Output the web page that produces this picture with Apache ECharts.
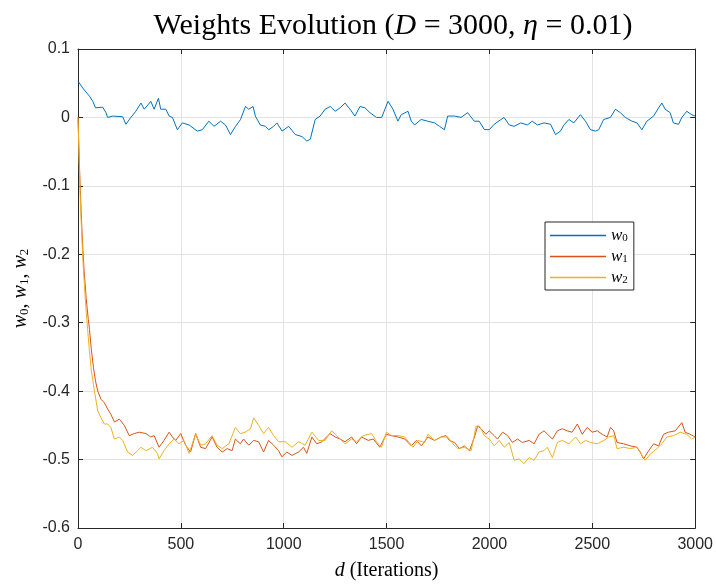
<!DOCTYPE html>
<html>
<head>
<meta charset="utf-8">
<script src="https://cdn.jsdelivr.net/npm/echarts@6/dist/echarts.min.js"></script>
<style>
  html, body { margin: 0; padding: 0; background: #fff; }
  #main { width: 716px; height: 586px; }
</style>
</head>
<body>
<div id="main"></div>
<script>
// [iteration, value] pairs
const w0 = [[0,0.053],[23,0.043],[56,0.031],[72,0.0235],[85,0.014],[120,0.015],[136,0.007],[144,0],[169,0.002],[217,0.001],[233,-0.010],[257,0],[281,0.009],[306,0.021],[322,0.012],[354,0.0235],[370,0.012],[391,0.028],[402,0.012],[427,0.012],[443,0.002],[459,0],[483,-0.018],[507,-0.008],[540,-0.011],[580,-0.020],[604,-0.018],[636,-0.0055],[661,-0.013],[693,-0.0055],[717,-0.011],[741,-0.025],[766,-0.013],[790,-0.003],[814,0.016],[830,0.012],[851,0.016],[862,0.002],[886,-0.011],[911,-0.013],[927,-0.018],[951,-0.013],[967,-0.008],[992,-0.020],[1024,-0.013],[1056,-0.025],[1089,-0.028],[1112,-0.0345],[1129,-0.032],[1153,-0.003],[1177,0.002],[1201,0.012],[1226,0.016],[1250,0.009],[1274,0.014],[1298,0.021],[1322,0.012],[1346,0.002],[1371,0.016],[1395,0.014],[1419,0.007],[1451,0],[1476,0],[1507,0.0235],[1531,0.012],[1555,-0.0055],[1571,0.004],[1604,0.009],[1620,-0.0055],[1636,-0.011],[1668,-0.003],[1700,-0.0055],[1733,-0.008],[1757,-0.013],[1781,-0.018],[1797,0.002],[1830,0.002],[1862,0],[1894,0.007],[1926,-0.0055],[1950,-0.0055],[1975,-0.0176],[1999,-0.018],[2023,-0.010],[2071,0],[2096,-0.011],[2120,-0.013],[2152,-0.008],[2184,-0.011],[2208,-0.0055],[2233,-0.011],[2265,-0.008],[2297,-0.010],[2321,-0.025],[2345,-0.020],[2362,-0.011],[2386,-0.003],[2410,-0.008],[2442,0.004],[2467,-0.0055],[2491,-0.018],[2515,-0.020],[2531,-0.018],[2555,-0.003],[2588,0],[2612,0.012],[2636,0.007],[2660,0],[2693,-0.0055],[2717,-0.008],[2741,-0.018],[2765,-0.0055],[2798,0.002],[2822,0.014],[2838,0.021],[2854,0.012],[2878,0.007],[2894,-0.008],[2919,-0.010],[2935,0],[2959,0.009],[2983,0.004],[3000,0.002]]

const w1 = [[0,0],[3,-0.03],[6,-0.06],[10,-0.095],[15,-0.135],[20,-0.17],[25,-0.2],[30,-0.225],[40,-0.265],[50,-0.295],[56,-0.31],[65,-0.34],[75,-0.365],[85,-0.385],[96,-0.40],[112,-0.412],[128,-0.417],[144,-0.426],[160,-0.434],[177,-0.445],[201,-0.441],[209,-0.439],[225,-0.450],[249,-0.465],[273,-0.462],[298,-0.460],[330,-0.462],[354,-0.467],[370,-0.465],[394,-0.482],[418,-0.472],[443,-0.460],[459,-0.467],[475,-0.472],[499,-0.462],[523,-0.479],[547,-0.489],[572,-0.462],[596,-0.482],[620,-0.484],[652,-0.467],[676,-0.482],[701,-0.489],[725,-0.484],[749,-0.487],[765,-0.470],[789,-0.477],[805,-0.470],[830,-0.479],[854,-0.472],[878,-0.474],[902,-0.489],[926,-0.472],[951,-0.479],[975,-0.487],[991,-0.496],[1015,-0.489],[1040,-0.494],[1072,-0.489],[1096,-0.482],[1112,-0.491],[1137,-0.467],[1161,-0.477],[1185,-0.474],[1225,-0.462],[1250,-0.467],[1274,-0.470],[1298,-0.474],[1330,-0.467],[1354,-0.477],[1378,-0.467],[1411,-0.472],[1435,-0.470],[1467,-0.482],[1499,-0.463],[1523,-0.465],[1556,-0.467],[1588,-0.470],[1620,-0.480],[1645,-0.472],[1669,-0.480],[1701,-0.467],[1733,-0.472],[1765,-0.467],[1789,-0.465],[1805,-0.472],[1830,-0.475],[1854,-0.484],[1878,-0.480],[1903,-0.487],[1927,-0.467],[1943,-0.451],[1959,-0.455],[1983,-0.463],[1999,-0.458],[2023,-0.465],[2039,-0.470],[2064,-0.460],[2088,-0.465],[2112,-0.475],[2136,-0.470],[2160,-0.475],[2193,-0.472],[2217,-0.477],[2241,-0.463],[2265,-0.458],[2289,-0.465],[2306,-0.470],[2330,-0.458],[2354,-0.455],[2378,-0.458],[2402,-0.460],[2427,-0.448],[2451,-0.463],[2475,-0.453],[2499,-0.460],[2524,-0.458],[2548,-0.463],[2572,-0.467],[2588,-0.453],[2604,-0.458],[2620,-0.475],[2653,-0.477],[2685,-0.480],[2717,-0.482],[2733,-0.489],[2749,-0.499],[2774,-0.487],[2798,-0.477],[2822,-0.480],[2846,-0.463],[2870,-0.460],[2903,-0.458],[2935,-0.446],[2951,-0.460],[2975,-0.463],[3000,-0.467]]

const w2 = [[0,0],[3,-0.035],[6,-0.07],[10,-0.11],[15,-0.15],[20,-0.185],[25,-0.215],[30,-0.24],[40,-0.285],[47,-0.31],[55,-0.34],[65,-0.37],[75,-0.39],[80,-0.40],[96,-0.429],[112,-0.439],[128,-0.448],[144,-0.448],[160,-0.453],[177,-0.470],[201,-0.467],[217,-0.472],[241,-0.489],[265,-0.494],[290,-0.487],[306,-0.482],[330,-0.487],[362,-0.482],[386,-0.491],[394,-0.499],[418,-0.487],[443,-0.477],[467,-0.470],[491,-0.477],[515,-0.472],[540,-0.491],[572,-0.462],[596,-0.479],[620,-0.477],[652,-0.465],[676,-0.479],[701,-0.484],[733,-0.477],[765,-0.453],[789,-0.462],[813,-0.460],[838,-0.455],[854,-0.439],[878,-0.450],[902,-0.462],[926,-0.453],[951,-0.465],[975,-0.474],[1007,-0.474],[1040,-0.482],[1072,-0.474],[1104,-0.479],[1137,-0.460],[1169,-0.472],[1201,-0.472],[1233,-0.458],[1258,-0.465],[1298,-0.477],[1330,-0.470],[1354,-0.474],[1386,-0.465],[1427,-0.462],[1451,-0.474],[1475,-0.482],[1499,-0.460],[1523,-0.465],[1556,-0.465],[1588,-0.467],[1628,-0.482],[1653,-0.472],[1685,-0.475],[1701,-0.463],[1733,-0.472],[1765,-0.467],[1797,-0.467],[1822,-0.477],[1846,-0.484],[1878,-0.482],[1911,-0.487],[1935,-0.451],[1951,-0.451],[1975,-0.465],[1999,-0.470],[2023,-0.480],[2047,-0.472],[2072,-0.482],[2096,-0.475],[2120,-0.501],[2144,-0.499],[2168,-0.506],[2193,-0.497],[2217,-0.501],[2241,-0.489],[2265,-0.487],[2281,-0.482],[2306,-0.497],[2330,-0.475],[2354,-0.472],[2386,-0.477],[2419,-0.467],[2443,-0.477],[2467,-0.472],[2491,-0.475],[2524,-0.477],[2556,-0.472],[2580,-0.467],[2604,-0.465],[2620,-0.484],[2653,-0.482],[2685,-0.484],[2717,-0.482],[2741,-0.494],[2757,-0.501],[2782,-0.492],[2814,-0.484],[2838,-0.477],[2862,-0.467],[2895,-0.465],[2927,-0.460],[2959,-0.463],[2983,-0.470],[3000,-0.467]]

const seriesNames = ['w0', 'w1', 'w2']
const colors = ['#0072BD', '#D95319', '#EDB120']

const axisColor = '#262626'
const serif = 'Liberation Serif'
const sans = 'Liberation Sans'

const mathRich = {
  n: { fontFamily: serif, fontSize: 20, color: '#000', lineHeight: 22 },
  i: { fontFamily: serif, fontStyle: 'italic', fontSize: 20, color: '#000', lineHeight: 22 },
  s: { fontFamily: serif, fontSize: 13, color: '#000', lineHeight: 11, verticalAlign: 'bottom' }
}

let chart = echarts.init(document.getElementById('main'), null, { renderer: 'canvas' })

function boxAxis(extra) {
  return Object.assign({
    type: 'value',
    axisLine: { show: true, onZero: false, lineStyle: { color: axisColor, width: 1 } },
    axisTick: { show: true, inside: true, length: 5, lineStyle: { color: axisColor } },
    axisLabel: { show: false },
    splitLine: { show: false }
  }, extra)
}

let option = {
  animation: false,
  color: colors,
  title: {
    text: '{n|Weights Evolution (}{i|D}{n| = 3000, }{i|η}{n| = 0.01)}',
    left: 388,
    textAlign: 'center',
    top: 6,
    textStyle: {
      fontWeight: 'normal',
      rich: {
        n: { fontFamily: serif, fontSize: 30, fontWeight: 'normal', color: '#000' },
        i: { fontFamily: serif, fontStyle: 'italic', fontSize: 30, fontWeight: 'normal', color: '#000' }
      }
    }
  },
  grid: { left: 78, right: 18, top: 49, bottom: 55 },
  legend: {
    orient: 'vertical',
    left: 545,
    top: 222,
    padding: [5, 6, 4, 5],
    itemGap: 4,
    itemWidth: 56,
    itemHeight: 1.5,
    icon: 'rect',
    borderColor: axisColor,
    borderWidth: 1,
    backgroundColor: '#fff',
    data: seriesNames,
    formatter: name => '{i|w}{s|' + name.slice(1) + '}',
    textStyle: {
      rich: {
        i: { fontFamily: serif, fontStyle: 'italic', fontSize: 17, color: '#000', lineHeight: 17 },
        s: { fontFamily: serif, fontSize: 11, color: '#000', lineHeight: 9, verticalAlign: 'bottom' }
      }
    }
  },
  xAxis: [
    {
      type: 'value',
      min: 0,
      max: 3000,
      interval: 500,
      position: 'bottom',
      name: '{i|d}{n| (Iterations)}',
      nameLocation: 'middle',
      nameGap: 32,
      nameTextStyle: { rich: mathRich },
      axisLine: { show: true, onZero: false, lineStyle: { color: axisColor, width: 1 } },
      axisTick: { show: true, inside: true, length: 5, lineStyle: { color: axisColor } },
      axisLabel: { color: axisColor, fontFamily: sans, fontSize: 16, margin: 9, formatter: v => String(v) },
      splitLine: { show: true, lineStyle: { color: '#e3e3e3', width: 1 } }
    },
    boxAxis({ min: 0, max: 3000, interval: 500, position: 'top' })
  ],
  yAxis: [
    {
      type: 'value',
      min: -0.6,
      max: 0.1,
      interval: 0.1,
      position: 'left',
      name: '{i|w}{s|0}{n|, }{i|w}{s|1}{n|, }{i|w}{s|2}',
      nameLocation: 'middle',
      nameGap: 45,
      nameTextStyle: { rich: mathRich },
      axisLine: { show: true, onZero: false, lineStyle: { color: axisColor, width: 1 } },
      axisTick: { show: true, inside: true, length: 5, lineStyle: { color: axisColor } },
      axisLabel: {
        color: axisColor, fontFamily: sans, fontSize: 16, margin: 8,
        formatter: v => String(+v.toFixed(1))
      },
      splitLine: { show: true, lineStyle: { color: '#e3e3e3', width: 1 } }
    },
    boxAxis({ min: -0.6, max: 0.1, interval: 0.1, position: 'right' })
  ],
  series: [w0, w1, w2].map((d, k) => ({
    name: seriesNames[k],
    type: 'line',
    data: d,
    showSymbol: false,
    symbol: 'none',
    lineStyle: { width: 1, color: colors[k] },
    itemStyle: { color: colors[k] },
    emphasis: { disabled: true }
  }))
}

chart.setOption(option)
</script>
</body>
</html>
